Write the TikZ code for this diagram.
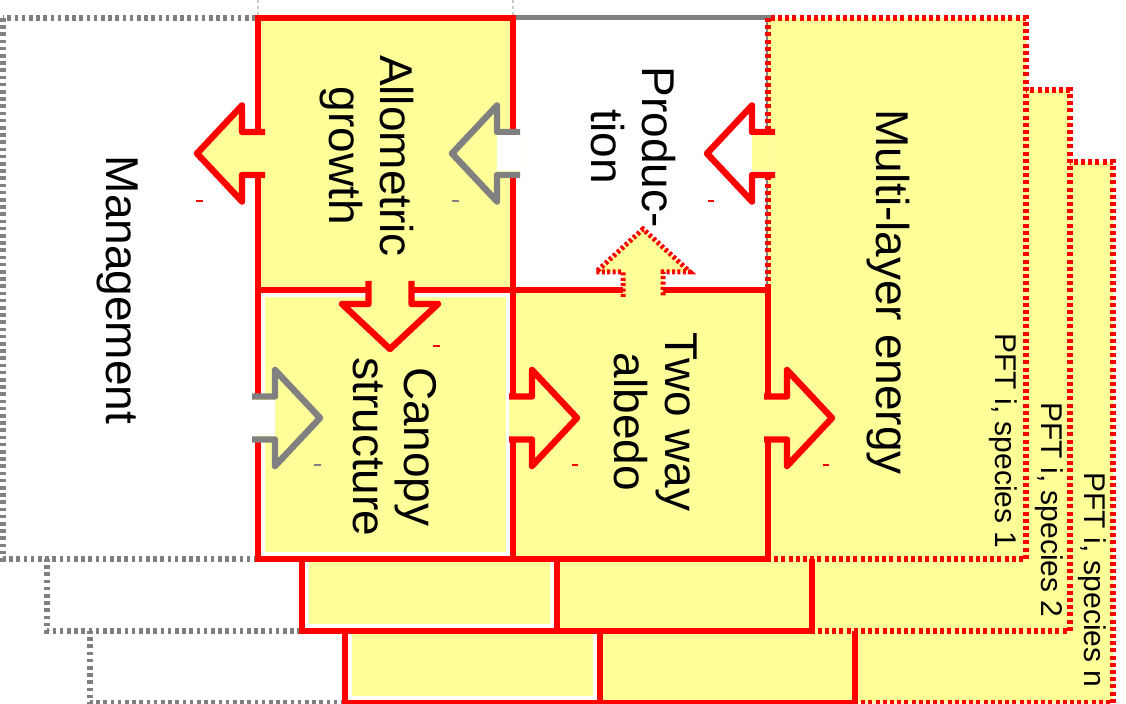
\documentclass[tikz,border=0pt]{standalone}
\usepackage{fontspec}
\setmainfont{Liberation Sans}

\definecolor{pale}{HTML}{FFFF99}
\definecolor{midgray}{HTML}{808080}
\definecolor{faintgray}{HTML}{CCCCCC}

\tikzset{
  redbox/.style={draw=red, line width=3pt, fill=pale},
  gapbox/.style={draw=red, line width=3pt, fill=white,
    path picture={\fill[pale] ([shift={(3.5pt,-3.5pt)}]path picture bounding box.north west)
      rectangle ([shift={(-3.5pt,3.5pt)}]path picture bounding box.south east);}},
  mgmtbox/.style={draw=midgray, line width=3pt, dash pattern=on 1.8pt off 1.8pt, fill=white},
  prodbox/.style={draw=midgray, line width=2.5pt, fill=white},
  pftbox/.style={draw=red, line width=3pt, dash pattern=on 2pt off 1.6pt, fill=pale},
  redarrow/.style={draw=red, line width=3.2pt, line join=round, fill=pale},
  grayarrow/.style={draw=midgray, line width=3.2pt, line join=round, fill=pale},
  dotarrow/.style={draw=red, line width=2.5pt, dash pattern=on 1.5pt off 1.2pt, fill=pale},
  boxtext/.style={rotate=-90, align=center, inner sep=0pt, font=\fontsize{23}{25.5}\selectfont},
  pfttext/.style={rotate=-90, inner sep=0pt, font=\fontsize{15}{18}\selectfont},
  stub/.style={line width=0.6pt}
}

\begin{document}
\begin{tikzpicture}[x=0.5pt, y=-0.5pt]
\useasboundingbox (0,0) rectangle (1126,704);

\draw[faintgray, line width=1pt, dash pattern=on 1.5pt off 1.5pt] (258,0) -- (258,17);
\draw[faintgray, line width=1pt, dash pattern=on 1.5pt off 1.5pt] (513,0) -- (513,17);

% species n
\begin{scope}[shift={(87,144)}]
\draw[mgmtbox] (3,18) rectangle (258,559);
\draw[prodbox] (513,18) rectangle (768,290);
\draw[pftbox] (768,18) rectangle (1026,559);
\draw[redbox] (258,18) rectangle (513,290);
\draw[gapbox] (258,290) rectangle (513,559);
\draw[redbox] (513,290) rectangle (768,559);
\end{scope}

% species 2
\begin{scope}[shift={(43.5,72)}]
\draw[mgmtbox] (3,18) rectangle (258,559);
\draw[prodbox] (513,18) rectangle (768,290);
\draw[pftbox] (768,18) rectangle (1026,559);
\draw[redbox] (258,18) rectangle (513,290);
\draw[gapbox] (258,290) rectangle (513,559);
\draw[redbox] (513,290) rectangle (768,559);
\end{scope}

% species 1
\draw[mgmtbox] (3,18) rectangle (258,559);
\draw[prodbox] (513,18) rectangle (768,290);
\draw[pftbox] (768,18) rectangle (1026,559);
\draw[redbox] (258,18) rectangle (513,290);
\draw[gapbox] (258,290) rectangle (513,559);
\draw[redbox] (513,290) rectangle (768,559);

\node[boxtext] (mgmt) at (118,290) {Management};
\node[boxtext] (allo) at (367,156) {Allometric\\growth};
\node[boxtext] (prod) at (633,147) {Produc-\\tion};
\node[boxtext] (energy) at (888,292) {Multi-layer energy};
\node[boxtext] (canopy) at (395,447) {Canopy\\structure};
\node[boxtext] (albedo) at (656,422) {Two way\\albedo};
\node[pfttext] (pft1) at (1003,441) {PFT i, species 1};
\node[pfttext] (pft2) at (1049,510) {PFT i, species 2};
\node[pfttext] (pftn) at (1092,580) {PFT i, species n};

% block arrows
\draw[redarrow, shift={(197,153.5)}, rotate=180] (-68,-21.5) -- (-45,-21.5) -- (-45,-48) -- (0,0) -- (-45,48) -- (-45,21.5) -- (-68,21.5);
\draw[grayarrow, shift={(452,153.5)}, rotate=180] (-68,-21.5) -- (-45,-21.5) -- (-45,-48) -- (0,0) -- (-45,48) -- (-45,21.5) -- (-68,21.5);
\fill[white, shift={(452,153.5)}, rotate=180] (-68,-18) rectangle (-45,18);
\draw[redarrow, fill=white, shift={(707,153.5)}, rotate=180] (-68,-21.5) -- (-45,-21.5) -- (-45,-48) -- (0,0) -- (-45,48) -- (-45,21.5) -- (-68,21.5);
\fill[pale, shift={(707,153.5)}, rotate=180] (-68,-18) rectangle (-45,18);
\draw[redarrow, shift={(390,349)}, rotate=-90] (-68,-21.5) -- (-45,-21.5) -- (-45,-48) -- (0,0) -- (-45,48) -- (-45,21.5) -- (-68,21.5);
\draw[grayarrow, shift={(320,418)}] (-68,-21.5) -- (-45,-21.5) -- (-45,-48) -- (0,0) -- (-45,48) -- (-45,21.5) -- (-68,21.5);
\fill[white, shift={(320,418)}] (-68,-18) rectangle (-45,18);
\draw[redarrow, shift={(577,418)}] (-68,-21.5) -- (-45,-21.5) -- (-45,-48) -- (0,0) -- (-45,48) -- (-45,21.5) -- (-68,21.5);
\draw[redarrow, shift={(832,418)}] (-68,-21.5) -- (-45,-21.5) -- (-45,-48) -- (0,0) -- (-45,48) -- (-45,21.5) -- (-68,21.5);
\draw[dotarrow, shift={(643,229)}, rotate=90] (-68,-20) -- (-43,-20) -- (-43,-47) -- (0,0) -- (-43,47) -- (-43,20) -- (-68,20);

\draw[stub, red] (196,201) -- (203,201);
\draw[stub, midgray] (452,201) -- (459,201);
\draw[stub, red] (708,201) -- (714,201);
\draw[stub, red] (433,346) -- (440,346);
\draw[stub, midgray] (314,465) -- (321,465);
\draw[stub, red] (572,465) -- (578,465);
\draw[stub, red] (823,465) -- (829,465);

\end{tikzpicture}
\end{document}
